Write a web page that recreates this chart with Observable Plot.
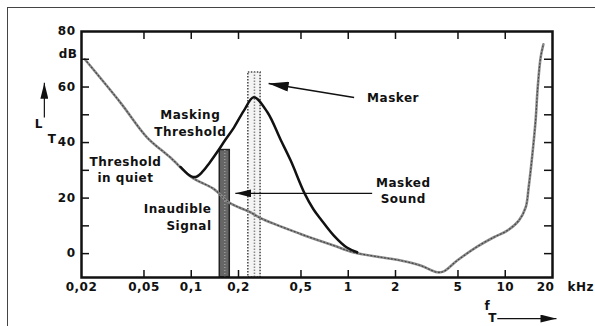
<!DOCTYPE html>
<html><head><meta charset="utf-8">
<script src="https://cdn.jsdelivr.net/npm/d3@7"></script>
<script src="https://cdn.jsdelivr.net/npm/@observablehq/plot@0.6"></script>
<style>
html,body{margin:0;padding:0;background:#fff;overflow:hidden;}
#chart{width:595px;height:326px;position:relative;overflow:hidden;}
#border{position:absolute;left:7px;top:7px;width:700px;height:400px;border-left:1.5px solid #444;border-top:1.5px solid #444;pointer-events:none;}
</style></head><body><div id="chart"><div id="border"></div></div>
<script>
// Threshold in quiet (kHz, dB)
const quietFreq = [0.021,0.0354,0.0524,0.0737,0.1,0.139,0.173,0.238,0.276,0.497,0.808,1.07,1.61,2.16,2.89,3.69,4.06,4.94,6.63,8.46,10.3,12.2,13.5,14.1,14.9,15.6,16.1,16.8,17.5];
const quietLevel = [70,54.4,41.8,34.6,27.6,23.3,18.5,14.9,12.8,7.1,2.9,0.5,-1.3,-2.5,-4.3,-6.7,-6.4,-2.5,2.5,5.9,8.3,11.9,16.7,23.9,35.9,47.8,59.8,70.6,75.4];
// Masking threshold (kHz, dB)
const maskFreq = [0.0856,0.1,0.108,0.118,0.13,0.146,0.165,0.187,0.216,0.25,0.305,0.371,0.43,0.527,0.6,0.667,0.81,0.98,1.14];
const maskLevel = [31.2,27.8,27.7,29.5,32.5,36.5,41,45.4,51.4,56.3,51,41,33.5,21.7,16,12.5,6.5,2.2,0.5];
// Masker band and inaudible signal bar
const maskerFreq = [0.231, 0.2765];
const maskerLevel = 65.2;
const signalFreq = [0.152, 0.176];
const signalLevel = 37.3;
// Axes
const xDomain = [0.02, 20];
const yDomain = [-8.6, 80];
const xTicks = [0.02,0.05,0.1,0.2,0.5,1,2,5,10];
const xTickLabels = ["0,02","0,05","0,1","0,2","0,5","1","2","5","10"];
const xLastTick = [20];
const xLastLabel = ["20"];
const xUnit = ["kHz"];
const xInnerTicks = [0.05,0.1,0.2,0.5,1,2,5,10];
const yTicks = [0,20,40,60,80];
const yTickLabels = ["0","20","40","60","80"];
const yUnit = ["dB"];
const yInnerTicks = [0,10,20,30,40,50,60,70];
// Annotations (kHz, dB)
const notesCentered = [
  {text:"Masking\nThreshold", f:0.0986, db:47.5},
  {text:"Threshold\nin quiet", f:0.0381, db:30.6},
  {text:"Masker", f:1.93, db:56.7},
  {text:"Masked\nSound", f:2.24, db:23.05}
];
const notesRight = [
  {text:"Inaudible\nSignal", f:0.1346, db:13.5}
];
const bigArrows = [{f1:1.09, db1:56.2, f2:0.311, db2:61.3}];
const smallArrows = [
  {f1:1.42, db1:21.7, f2:0.191, db2:21.7},
  {f1:0.0116, db1:49, f2:0.0116, db2:61.5},
  {f1:8.9, db1:-23.4, f2:21.2, db2:-23.4}
];
const axisSymbols = [
  {text:"L", f:0.0107, db:46.8},
  {text:"T", f:0.0130, db:41.1},
  {text:"f", f:7.68, db:-18.9},
  {text:"T", f:8.3, db:-23.4}
];

const quiet = quietFreq.map((f,i)=>({f, db:quietLevel[i]}));
const mask = maskFreq.map((f,i)=>({f, db:maskLevel[i]}));
const W = 595, H = 326, mL = 81, mR = 43, mT = 31, mB = 49;
const fw = W - mL - mR, fh = H - mT - mB;

const chart = Plot.plot({
  width: W, height: H,
  marginLeft: mL, marginRight: mR, marginTop: mT, marginBottom: mB,
  style: {fontFamily: "DejaVu Sans", fontWeight: "bold", fontSize: "12px", letterSpacing: "0.5px", color: "#111", background: "transparent", overflow: "visible"},
  x: {type: "log", domain: xDomain, axis: null},
  y: {domain: yDomain, axis: null},
  marks: [
    // masker band
    Plot.rect([{x1: maskerFreq[0], x2: maskerFreq[1], y1: yDomain[0], y2: maskerLevel}], {x1:"x1", x2:"x2", y1:"y1", y2:"y2", fill:"#f4f4f4", stroke:"#444", strokeWidth:1.5, strokeDasharray:"1.5,1.5"}),
    Plot.ruleX([{x: Math.sqrt(maskerFreq[0]*maskerFreq[1]), y1: yDomain[0], y2: maskerLevel}], {x:"x", y1:"y1", y2:"y2", stroke:"#888", strokeWidth:1.5, strokeDasharray:"1.5,1.5"}),
    // inaudible signal bar
    Plot.rect([{x1: signalFreq[0], x2: signalFreq[1], y1: yDomain[0], y2: signalLevel}], {x1:"x1", x2:"x2", y1:"y1", y2:"y2", fill:"#666", stroke:"#222", strokeWidth:1.5}),
    Plot.ruleX([{x: Math.sqrt(signalFreq[0]*signalFreq[1]), y1: yDomain[0], y2: signalLevel}], {x:"x", y1:"y1", y2:"y2", stroke:"#999", strokeWidth:1.5, strokeDasharray:"1,2"}),
    // threshold in quiet
    Plot.line(quiet, {x:"f", y:"db", stroke:"#8c8c8c", strokeWidth:2.6, curve:"catmull-rom"}),
    Plot.line(quiet, {x:"f", y:"db", stroke:"#444", strokeWidth:1.1, strokeDasharray:"1,2.5", curve:"catmull-rom"}),
    // masking threshold
    Plot.line(mask, {x:"f", y:"db", stroke:"#111", strokeWidth:2.5, curve:"catmull-rom"}),
    // arrows
    Plot.link(bigArrows, {x1:"f1", y1:"db1", x2:"f2", y2:"db2", stroke:"#111", strokeWidth:1.5}),
    Plot.link(smallArrows, {x1:"f1", y1:"db1", x2:"f2", y2:"db2", stroke:"#111", strokeWidth:1.2}),
    // inward ticks
    Plot.ruleY(yInnerTicks, {y: d=>d, insetRight: fw - 8, stroke:"#111", strokeWidth:1.5}),
    Plot.ruleY(yInnerTicks, {y: d=>d, insetLeft: fw - 8, stroke:"#111", strokeWidth:1.5}),
    Plot.ruleX(xInnerTicks, {x: d=>d, insetTop: fh - 7, stroke:"#111", strokeWidth:1.5}),
    Plot.ruleX(xInnerTicks, {x: d=>d, insetBottom: fh - 8, stroke:"#111", strokeWidth:1.5}),
    Plot.frame({stroke:"#111", strokeWidth:2.5}),
    // tick labels
    Plot.text(xTicks, {x: d=>d, text: (d,i)=>xTickLabels[i], frameAnchor:"bottom", dy: 13, fill:"#111"}),
    Plot.text(xLastTick, {x: d=>d, text: (d,i)=>xLastLabel[i], frameAnchor:"bottom", dy: 13, dx: -7, fill:"#111"}),
    Plot.text(xUnit, {x: xLastTick, text: d=>d, frameAnchor:"bottom", dy: 13, dx: 15, textAnchor:"start", fill:"#111"}),
    Plot.text(yTicks, {y: d=>d, text: (d,i)=>yTickLabels[i], frameAnchor:"left", dx: -6, textAnchor:"end", fill:"#111"}),
    Plot.text(yUnit, {text: d=>d, frameAnchor:"top-left", dx: -4, dy: 18, textAnchor:"end", fill:"#111"}),
    Plot.text(axisSymbols, {x:"f", y:"db", text:"text", fill:"#111"}),
    // annotation labels
    Plot.text(notesCentered, {x:"f", y:"db", text:"text", textAnchor:"middle", lineAnchor:"middle", lineHeight:1.4, fill:"#111"}),
    Plot.text(notesRight, {x:"f", y:"db", text:"text", textAnchor:"end", lineAnchor:"middle", lineHeight:1.4, fill:"#111"})
  ]
});

const svg = d3.select(chart);
const defs = svg.insert("defs", ":first-child");
function addMarker(id, len, w) {
  defs.append("marker").attr("id", id).attr("markerUnits", "userSpaceOnUse")
    .attr("viewBox", `0 ${-w/2} ${len} ${w}`).attr("markerWidth", len).attr("markerHeight", w)
    .attr("refX", len).attr("refY", 0).attr("orient", "auto")
    .append("path").attr("d", `M0,${-w/2}L${len},0L0,${w/2}Z`).attr("fill", "#111").attr("stroke", "none");
}
addMarker("ahBig", 20, 10);
addMarker("ahSmall", 16, 8);
const linkGroups = svg.selectAll('g[aria-label="link"]').nodes();
if (linkGroups[0]) d3.select(linkGroups[0]).selectAll("path").attr("marker-end", "url(#ahBig)");
if (linkGroups[1]) d3.select(linkGroups[1]).selectAll("path").attr("marker-end", "url(#ahSmall)");
document.getElementById("chart").appendChild(chart);
</script></body></html>
